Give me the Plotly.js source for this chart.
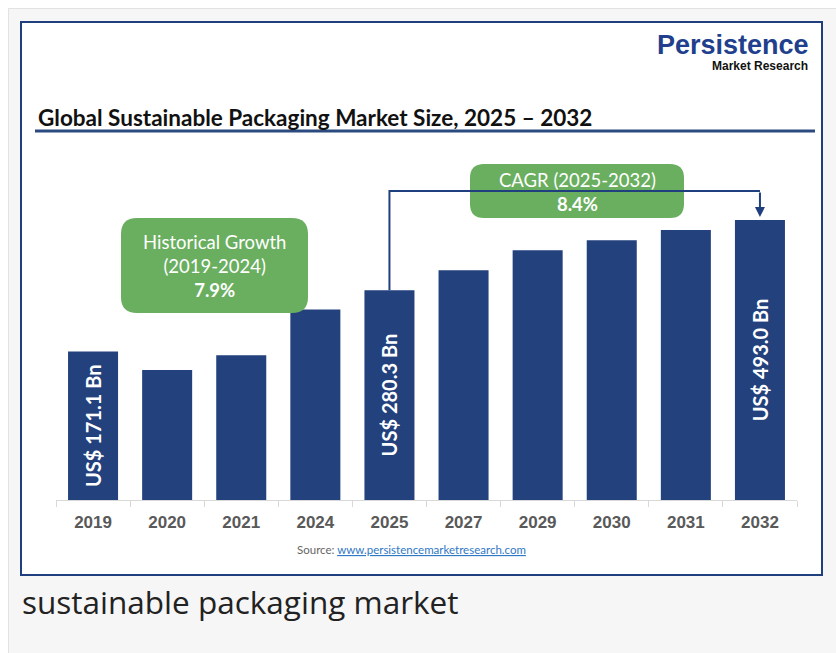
<!DOCTYPE html>
<html><head><meta charset="utf-8">
<script src="https://cdn.plot.ly/plotly-3.0.1.min.js"></script>
<style>html,body{margin:0;padding:0;background:#fff;} #chart{width:836px;height:653px;}</style>
</head><body><div id="chart"></div>
<script>
// ---- data ----
const years = ['2019','2020','2021','2024','2025','2027','2029','2030','2031','2032'];
const marketSize = [171.1, 147.5, 166.0, 240.0, 280.3, 329.4, 387.0, 419.5, 454.8, 493.0];
const barLabels = ['US$ 171.1 Bn','','','','US$ 280.3 Bn','','','','','US$ 493.0 Bn'];
const historicalCagr = '7.9%';
const forecastCagr = '8.4%';

// ---- layout helpers (pixel -> paper) ----
const W=836, H=653, L=56, R=797, T=150, B=500;
const pw=R-L, ph=B-T;
const px = x => (x-L)/pw;
const py = y => (B-y)/ph;
const yLo=1.714, yHi=2.938;
const NAVY='#22417d', GREEN='#6aae5f';
function rr(x0,y0,x1,y1,r){
  const X=px, Y=py;
  return `M${X(x0+r)},${Y(y0)} L${X(x1-r)},${Y(y0)} Q${X(x1)},${Y(y0)} ${X(x1)},${Y(y0+r)} `+
    `L${X(x1)},${Y(y1-r)} Q${X(x1)},${Y(y1)} ${X(x1-r)},${Y(y1)} L${X(x0+r)},${Y(y1)} `+
    `Q${X(x0)},${Y(y1)} ${X(x0)},${Y(y1-r)} L${X(x0)},${Y(y0+r)} Q${X(x0)},${Y(y0)} ${X(x0+r)},${Y(y0)} Z`;
}
const topPaper = v => (Math.log10(v)-yLo)/(yHi-yLo);
const i25 = years.indexOf('2025'), i32 = years.indexOf('2032');

const trace = {
  type:'bar', x:years, y:marketSize, marker:{color:NAVY, line:{width:0}},
  text:barLabels, textposition:'inside', insidetextanchor:'middle', textangle:-90,
  constraintext:'none', cliponaxis:false,
  textfont:{family:'Lato', size:20, color:'#ffffff', weight:'bold'},
  hoverinfo:'x+y'
};

const shapes = [
  {type:'rect', xref:'paper', yref:'paper', x0:px(8.5), x1:px(845), y0:py(8.5), y1:py(670),
   fillcolor:'#f6f6f6', line:{color:'#e2e2e2', width:1}, layer:'below'},
  {type:'rect', xref:'paper', yref:'paper', x0:px(21), x1:px(822), y0:py(22), y1:py(575),
   fillcolor:'#ffffff', line:{color:'#1f3f7e', width:2}, layer:'below'},
  {type:'line', xref:'paper', yref:'paper', x0:px(35), x1:px(815), y0:py(131), y1:py(131),
   line:{color:'#2a4a80', width:3}},
  {type:'path', xref:'paper', yref:'paper', path:rr(121,218,308,313,16), fillcolor:GREEN, line:{width:0}},
  {type:'path', xref:'paper', yref:'paper', path:rr(470,164,684,218,14), fillcolor:GREEN, line:{width:0}, layer:'below'},
  {type:'path', xref:'x', yref:'paper',
   path:`M${i25},${topPaper(marketSize[i25])} L${i25},${py(191)} L${i32},${py(191)}`,
   line:{color:'#1f3f7e', width:2}, layer:'below'}
];

const annotations = [
  {xref:'paper', yref:'paper', x:px(811), y:py(45), xanchor:'right', yanchor:'middle', showarrow:false,
   text:'Persistence', font:{family:'Liberation Sans', size:27, color:'#213f8c', weight:'bold'}},
  {xref:'paper', yref:'paper', x:px(810), y:py(66), xanchor:'right', yanchor:'middle', showarrow:false,
   text:'Market Research', font:{family:'Liberation Sans', size:12, color:'#111', weight:'bold'}},
  {xref:'paper', yref:'paper', x:px(36), y:py(117), xanchor:'left', yanchor:'middle', showarrow:false,
   text:'<b>Global Sustainable Packaging Market Size, 2025 – 2032</b>', font:{family:'Lato', size:22.5, color:'#111'}},
  {xref:'paper', yref:'paper', x:px(214.5), y:py(266), xanchor:'center', yanchor:'middle', showarrow:false,
   text:'Historical Growth<br>(2019-2024)<br><b>'+historicalCagr+'</b>', align:'center',
   font:{family:'Lato', size:18.5, color:'#ffffff'}},
  {xref:'paper', yref:'paper', x:px(577), y:py(192), xanchor:'center', yanchor:'middle', showarrow:false,
   text:'CAGR (2025-2032)<br><b>'+forecastCagr+'</b>', align:'center',
   font:{family:'Lato', size:18.5, color:'#ffffff'}},
  {xref:'x', yref:'paper', x:i32, y:topPaper(marketSize[i32])+3/ph, ax:0, ay:-((B-topPaper(marketSize[i32])*ph-3)-191),
   showarrow:true, arrowhead:2, arrowsize:1, arrowwidth:2, arrowcolor:'#1f3f7e', text:''},
  {xref:'paper', yref:'paper', x:px(411), y:py(549), xanchor:'center', yanchor:'middle', showarrow:false,
   text:'<span style="color:#666">Source: </span><span style="color:#2f78c4"><u>www.persistencemarketresearch.com</u></span>',
   font:{family:'Lato', size:11.5}},
  {xref:'paper', yref:'paper', x:px(20), y:py(601), xanchor:'left', yanchor:'middle', showarrow:false,
   text:'sustainable packaging market', font:{family:'Open Sans', size:31.5, color:'#222'}}
];

const layout = {
  width:W, height:H, margin:{l:L, r:W-R, t:T, b:H-B, pad:0},
  paper_bgcolor:'#ffffff', plot_bgcolor:'rgba(0,0,0,0)',
  showlegend:false, bargap:0.325,
  xaxis:{type:'category', automargin:false, showline:true, linecolor:'#d9d9d9', linewidth:1,
    ticks:'outside', tickson:'boundaries', ticklen:6, tickcolor:'#d9d9d9', showgrid:false,
    tickfont:{family:'Liberation Sans', size:17, color:'#595959', weight:'bold'}, ticklabelstandoff:7,
    fixedrange:true},
  yaxis:{type:'log', range:[yLo, yHi], visible:false, showgrid:false, fixedrange:true, automargin:false},
  shapes:shapes, annotations:annotations
};
Plotly.newPlot('chart', [trace], layout, {displayModeBar:false, staticPlot:true});
</script></body></html>
